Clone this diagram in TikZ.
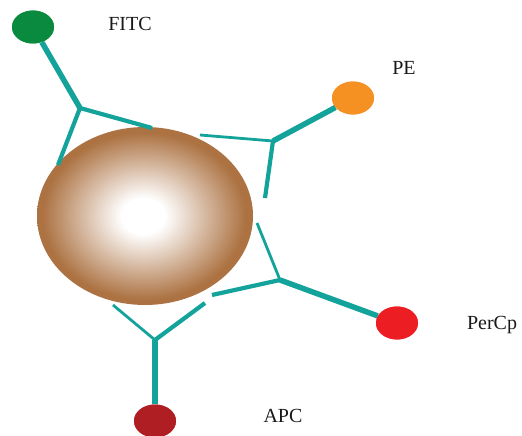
\documentclass[tikz,border=0pt]{standalone}
\usepackage{fontspec}
\setmainfont{Liberation Serif}
\usetikzlibrary{shapes.geometric}

\definecolor{abteal}{RGB}{20,163,155}
\definecolor{beadbrown}{RGB}{172,114,66}
\definecolor{fitcgreen}{RGB}{10,138,62}
\definecolor{peorange}{RGB}{245,145,35}
\definecolor{percpred}{RGB}{236,30,36}
\definecolor{apcred}{RGB}{175,30,35}
\definecolor{labelgray}{RGB}{25,25,25}

% bead: white highlight fading into brown towards the rim
\pgfdeclareradialshading{beadshade}{\pgfpoint{-0.5bp}{0bp}}{%
  color(0bp)=(white); color(5bp)=(white); color(23.5bp)=(beadbrown); color(25bp)=(beadbrown); color(50bp)=(beadbrown)}

\tikzset{
  dye/.style={ellipse, draw=none, minimum width=42pt, minimum height=33pt, inner sep=0pt},
  stem/.style={draw=abteal, line width=5.5pt},
  arm/.style={draw=abteal, line width=4.2pt},
  thinarm/.style={draw=abteal, line width=2.8pt},
  dyelabel/.style={font=\fontsize{20}{22}\selectfont, text=labelgray, inner sep=0pt}
}

\begin{document}
\begin{tikzpicture}[x=1pt, y=-1pt]
  \useasboundingbox (0,0) rectangle (522,436);

  % bead
  \shade[shading=beadshade] (145,216) ellipse [x radius=108pt, y radius=89pt];

  % fluorochromes
  \node[dye, fill=fitcgreen] (fitc) at (33,27) {};
  \node[dye, fill=peorange] (pe) at (353,98) {};
  \node[dye, fill=percpred] (percp) at (397,323) {};
  \node[dye, fill=apcred] (apc) at (155,421) {};

  % antibody junctions and arm tips
  \coordinate (j1) at (80,108);
  \coordinate (j1a) at (152,128);
  \coordinate (j1b) at (58,165);
  \coordinate (j2) at (273,141);
  \coordinate (j2a) at (200,135);
  \coordinate (j2b) at (265,198);
  \coordinate (j3) at (280,280);
  \coordinate (j3a) at (257,223);
  \coordinate (j3b) at (212,295);
  \coordinate (j4) at (155,340);
  \coordinate (j4a) at (113,305);
  \coordinate (j4b) at (205,303);

  % antibodies
  \path[stem] (fitc) -- (j1);
  \path[arm] (j1) -- (j1a);
  \path[arm] (j1) -- (j1b);

  \path[stem] (pe) -- (j2);
  \path[thinarm] (j2) -- (j2a);
  \path[arm] (j2) -- (j2b);

  \path[stem] (percp) -- (j3);
  \path[thinarm] (j3) -- (j3a);
  \path[arm] (j3) -- (j3b);

  \path[stem] (apc) -- (j4);
  \path[thinarm] (j4) -- (j4a);
  \path[arm] (j4) -- (j4b);

  % redraw fluorochromes on top of the stems
  \fill[fitcgreen] (fitc.center) ellipse [x radius=21pt, y radius=16.5pt];
  \fill[peorange] (pe.center) ellipse [x radius=21pt, y radius=16.5pt];
  \fill[percpred] (percp.center) ellipse [x radius=21pt, y radius=16.5pt];
  \fill[apcred] (apc.center) ellipse [x radius=21pt, y radius=16.5pt];

  % labels
  \node[dyelabel] (lfitc) at (130,24) {FITC};
  \node[dyelabel] (lpe) at (404,68) {PE};
  \node[dyelabel] (lpercp) at (492,325) {PerCp};
  \node[dyelabel] (lapc) at (283,416) {APC};
\end{tikzpicture}
\end{document}
